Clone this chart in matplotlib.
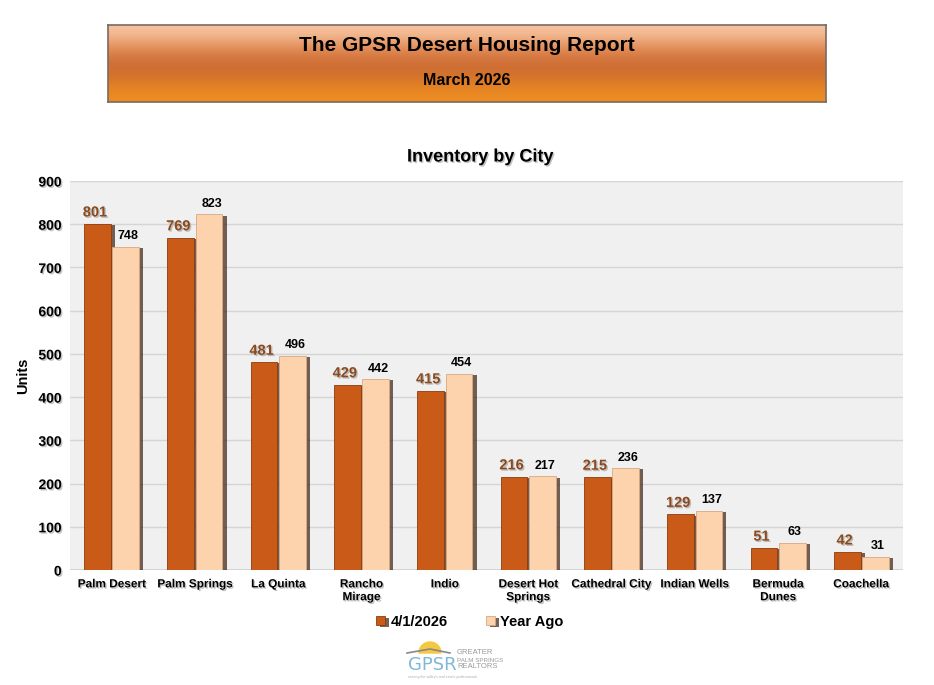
import numpy as np
import matplotlib.pyplot as plt
import matplotlib.patheffects as pe
from matplotlib.patches import Wedge

cities = ["Palm Desert", "Palm Springs", "La Quinta", "Rancho\nMirage", "Indio",
          "Desert Hot\nSprings", "Cathedral City", "Indian Wells", "Bermuda\nDunes", "Coachella"]
current = [801, 769, 481, 429, 415, 216, 215, 129, 51, 42]
year_ago = [748, 823, 496, 442, 454, 217, 236, 137, 63, 31]
yticks = [0, 100, 200, 300, 400, 500, 600, 700, 800, 900]

plt.rcParams['font.family'] = ['Liberation Sans', 'DejaVu Sans']
plt.rcParams['font.weight'] = 'bold'

dark = '#C95A17'
light = '#FDD3AE'
txt_shadow = [pe.withSimplePatchShadow(offset=(1, -1), shadow_rgbFace='#999999', alpha=0.6)]
bar_shadow = [pe.withSimplePatchShadow(offset=(3, -1), shadow_rgbFace='#3a2010', alpha=0.7)]

fig = plt.figure(figsize=(9.34, 6.85), dpi=100)

# header band
hdr = fig.add_axes([108/934, 1 - 102/685, (826-108)/934, (102-25)/685])
grad = np.array([[0.96, 0.76, 0.62], [0.91, 0.60, 0.40], [0.83, 0.46, 0.24],
                 [0.80, 0.42, 0.19], [0.87, 0.49, 0.15], [0.93, 0.55, 0.13]])
hdr.imshow(grad[:, None, :], aspect='auto', extent=[0, 1, 0, 1], interpolation='bicubic')
hdr.set_xticks([])
hdr.set_yticks([])
for s in hdr.spines.values():
    s.set_color('#7a6a60')
    s.set_linewidth(1.2)
hdr.text(0.5, 0.74, "The GPSR Desert Housing Report", ha='center', va='center',
         fontsize=15, fontweight='bold', transform=hdr.transAxes)
hdr.text(0.5, 0.28, "March 2026", ha='center', va='center',
         fontsize=11.5, fontweight='bold', transform=hdr.transAxes)

# main chart
ax = fig.add_axes([70/934, 1 - 570/685, (903-70)/934, (570-181)/685])
ax.set_facecolor('#F0F0F0')
x = np.arange(len(cities))
w = 0.32
b1 = ax.bar(x - 0.17, current, w, color=dark, edgecolor='#8a3c0c', linewidth=0.6,
            path_effects=bar_shadow, zorder=3, label='4/1/2026')
b2 = ax.bar(x + 0.17, year_ago, w, color=light, edgecolor='#d9a882', linewidth=0.6,
            path_effects=bar_shadow, zorder=3, label='Year Ago')

for xi, v in zip(x, current):
    ax.text(xi - 0.2, v + 10, str(v), ha='center', va='bottom', fontsize=10.5,
            color='#8B4A1E', fontweight='bold', path_effects=txt_shadow, zorder=4)
for xi, v in zip(x, year_ago):
    ax.text(xi + 0.2, v + 10, str(v), ha='center', va='bottom', fontsize=9,
            color='black', fontweight='bold', zorder=4)

ax.set_xlim(-0.5, len(cities) - 0.5)
ax.set_ylim(0, 900)
ax.set_yticks(yticks)
ax.set_yticklabels([str(t) for t in yticks], fontsize=10, fontweight='bold')
for lbl in ax.get_yticklabels():
    lbl.set_path_effects(txt_shadow)
ax.set_xticks(x)
ax.set_xticklabels(cities, fontsize=8.5, fontweight='bold', linespacing=1.1)
for lbl in ax.get_xticklabels():
    lbl.set_path_effects(txt_shadow)
ax.tick_params(length=0, pad=6)
ax.grid(axis='y', color='#D5D5D5', linewidth=1, zorder=0)
for s in ax.spines.values():
    s.set_visible(False)
ax.axhline(0, color='#CFCFCF', linewidth=1.2, zorder=2)

fig.text(480/934, 1 - 157/685, "Inventory by City", ha='center', va='center',
         fontsize=13, fontweight='bold', path_effects=txt_shadow)
ax.set_ylabel("Units", fontsize=10.5, fontweight='bold', labelpad=6)

leg = fig.legend(handles=[b1, b2], loc='center', bbox_to_anchor=(470/934, 1 - 622/685),
                 ncol=2, frameon=False, fontsize=10.5, handlelength=0.6, handleheight=0.6,
                 columnspacing=2.6, handletextpad=0.4)
for t in leg.get_texts():
    t.set_fontweight('bold')

# logo
lg = fig.add_axes([405/934, 1 - 680/685, 110/934, 40/685])
lg.set_xlim(0, 110)
lg.set_ylim(0, 40)
lg.axis('off')
lg.add_patch(Wedge((25, 27), 11, 0, 180, color='#F5C842'))
lg.plot([2, 25, 45], [27, 31, 27], color='#888888', lw=1.2)
lg.text(3, 15, "GPSR", fontsize=13, color='#7FB8D8', fontweight='normal',
        va='center', family='DejaVu Sans')
lg.text(52, 27, "GREATER", fontsize=5.5, color='#999999', fontweight='normal', va='center')
lg.text(52, 20, "PALM SPRINGS", fontsize=4.5, color='#999999', fontweight='normal', va='center')
lg.text(52, 13, "REALTORS", fontsize=5.5, color='#999999', fontweight='normal', va='center')
lg.text(3, 3, "serving the valley's real estate professionals", fontsize=2.5,
        color='#aaaaaa', fontweight='normal', va='center')

fig.savefig('out.png', dpi=100)
